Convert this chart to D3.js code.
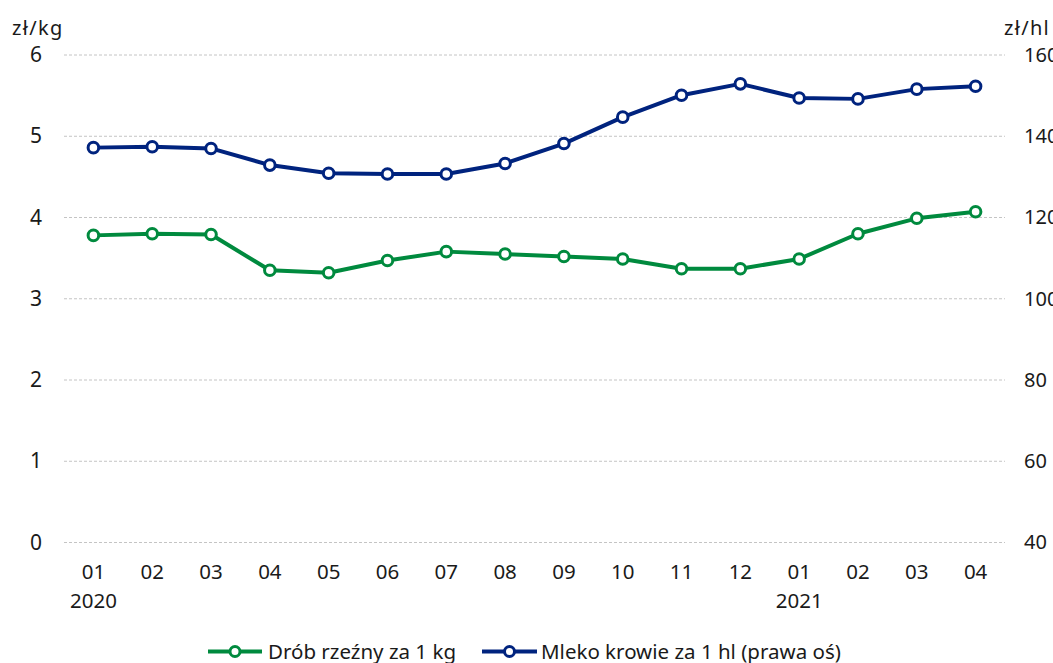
<!DOCTYPE html>
<html><head><meta charset="utf-8">
<script src="https://cdn.jsdelivr.net/npm/d3@7"></script>
<style>body{margin:0;background:#fff}svg{display:block}text{font-family:"Noto Sans",sans-serif;fill:#1a1a1a}</style>
</head><body><svg id="c" width="1053" height="663"></svg>
<script>
const months = ["01","02","03","04","05","06","07","08","09","10","11","12","01","02","03","04"];
const years = ["2020","","","","","","","","","","","","2021","","",""];
const drob = [3.78,3.80,3.79,3.35,3.32,3.47,3.58,3.55,3.52,3.49,3.37,3.37,3.49,3.80,3.99,4.07];
const mleko = [137.2,137.4,137.0,132.9,130.9,130.7,130.7,133.3,138.2,144.7,150.1,152.9,149.4,149.2,151.6,152.3];
const leftTicks = [0,1,2,3,4,5,6];
const rightTicks = [40,60,80,100,120,140,160];
const seriesNames = ["Drób rzeźny za 1 kg","Mleko krowie za 1 hl (prawa oś)"];
const colors = ["#008a3e","#00237e"];

const svg = d3.select("#c");
const L = 64, R = 1005, T = 55, B = 542.5;
const idx = d3.range(months.length);
const x = d3.scaleBand().domain(idx).range([L,R]);
const yL = d3.scaleLinear().domain([0,6]).range([B,T]);
const yR = d3.scaleLinear().domain([40,160]).range([B,T]);

// grid
svg.append("g").selectAll("line").data(leftTicks).join("line")
  .attr("x1",L).attr("x2",R).attr("y1",d=>yL(d)).attr("y2",d=>yL(d))
  .attr("stroke","#c4c4c4").attr("stroke-width",1).attr("stroke-dasharray","3,2");

// left axis
const la = svg.append("g").attr("transform",`translate(${L},0)`)
  .call(d3.axisLeft(yL).tickValues(leftTicks).tickSize(0).tickPadding(22).tickFormat(d3.format("d")));
la.select(".domain").remove();
la.selectAll("text").style("font-size","21px").attr("fill","#1a1a1a");
// right axis
const ra = svg.append("g").attr("transform",`translate(${R},0)`)
  .call(d3.axisRight(yR).tickValues(rightTicks).tickSize(0).tickPadding(19).tickFormat(d3.format("d")));
ra.select(".domain").remove();
ra.selectAll("text").style("font-size","20px").attr("fill","#1a1a1a");
// x axis
const xa = svg.append("g").attr("transform",`translate(0,${B})`)
  .call(d3.axisBottom(x).tickSize(0).tickPadding(22).tickFormat(i=>months[i]));
xa.select(".domain").remove();
xa.selectAll("text").style("font-size","20.5px").attr("fill","#1a1a1a");
svg.append("g").selectAll("text").data(idx.filter(i=>years[i])).join("text")
  .attr("x",i=>x(i)+x.bandwidth()/2).attr("y",607.5).attr("text-anchor","middle")
  .style("font-size","20.5px").text(i=>years[i]);

// units
svg.append("text").attr("x",12).attr("y",35).style("font-size","20px").style("letter-spacing","1.3px").text("zł/kg");
svg.append("text").attr("x",1004).attr("y",35).style("font-size","20px").style("letter-spacing","1.3px").text("zł/hl");

// lines
const cx = i => x(i)+x.bandwidth()/2;
const data = [drob.map((v,i)=>[cx(i),yL(v)]), mleko.map((v,i)=>[cx(i),yR(v)])];
data.forEach((pts,k)=>{
  svg.append("path").datum(pts).attr("d",d3.line()).attr("fill","none")
    .attr("stroke",colors[k]).attr("stroke-width",4).attr("stroke-linejoin","round");
  svg.append("g").selectAll("circle").data(pts).join("circle")
    .attr("cx",d=>d[0]).attr("cy",d=>d[1]).attr("r",5.3)
    .attr("fill","#fff").attr("stroke",colors[k]).attr("stroke-width",3);
});

// legend
const lg = [{x:208,w:54,tx:268},{x:482,w:55,tx:541}];
lg.forEach((p,k)=>{
  const g = svg.append("g");
  g.append("line").attr("x1",p.x).attr("x2",p.x+p.w).attr("y1",651.5).attr("y2",651.5)
    .attr("stroke",colors[k]).attr("stroke-width",4);
  g.append("circle").attr("cx",p.x+p.w/2).attr("cy",651.5).attr("r",5)
    .attr("fill","#fff").attr("stroke",colors[k]).attr("stroke-width",3);
  g.append("text").attr("x",p.tx).attr("y",658.5).style("font-size","20.5px").text(seriesNames[k]);
});
</script></body></html>
